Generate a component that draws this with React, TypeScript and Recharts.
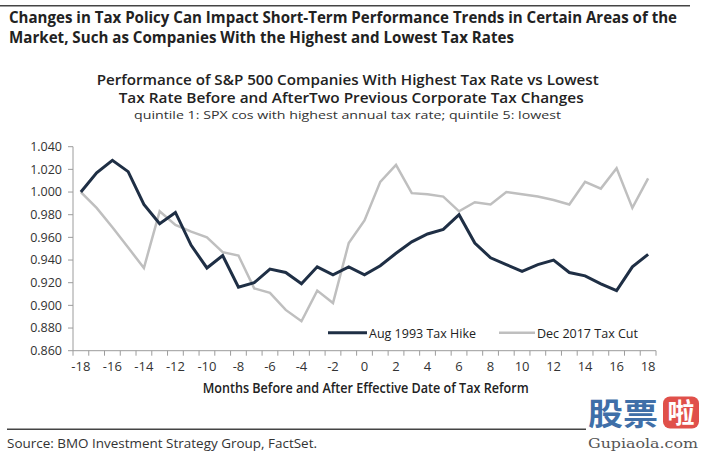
import React from 'react';
import { LineChart, Line, XAxis, YAxis } from 'recharts';

const months = [-18, -17, -16, -15, -14, -13, -12, -11, -10, -9, -8, -7, -6, -5, -4, -3, -2, -1, 0, 1, 2, 3, 4, 5, 6, 7, 8, 9, 10, 11, 12, 13, 14, 15, 16, 17, 18];

const aug1993TaxHike = [1.000, 1.017, 1.028, 1.018, 0.989, 0.972, 0.982, 0.953, 0.933, 0.944, 0.916, 0.920, 0.932, 0.929, 0.919, 0.934, 0.927, 0.934, 0.927, 0.935, 0.946, 0.956, 0.963, 0.967, 0.980, 0.955, 0.942, 0.936, 0.930, 0.936, 0.940, 0.929, 0.926, 0.919, 0.913, 0.934, 0.945];

const dec2017TaxCut = [1.000, 0.986, 0.969, 0.951, 0.933, 0.983, 0.971, 0.965, 0.960, 0.947, 0.944, 0.915, 0.911, 0.896, 0.886, 0.913, 0.902, 0.955, 0.975, 1.009, 1.024, 0.999, 0.998, 0.996, 0.983, 0.991, 0.989, 1.000, 0.998, 0.996, 0.993, 0.989, 1.009, 1.003, 1.021, 0.986, 1.012];

const yTicks = [0.86, 0.88, 0.9, 0.92, 0.94, 0.96, 0.98, 1.0, 1.02, 1.04];
const xLabelTicks = [-18, -16, -14, -12, -10, -8, -6, -4, -2, 0, 2, 4, 6, 8, 10, 12, 14, 16, 18];
const xBoundaryTicks = [-18.5, -17.5, -16.5, -15.5, -14.5, -13.5, -12.5, -11.5, -10.5, -9.5, -8.5, -7.5, -6.5, -5.5, -4.5, -3.5, -2.5, -1.5, -0.5, 0.5, 1.5, 2.5, 3.5, 4.5, 5.5, 6.5, 7.5, 8.5, 9.5, 10.5, 11.5, 12.5, 13.5, 14.5, 15.5, 16.5, 17.5, 18.5];

const seriesNames = ['Aug 1993 Tax Hike', 'Dec 2017 Tax Cut'];
const colors = ['#1f2f45', '#bfbfbf'];

const data = months.map((m, i) => ({
  month: m,
  aug: aug1993TaxHike[i],
  dec: dec2017TaxCut[i],
}));

const allXTicks = [...xBoundaryTicks, ...xLabelTicks].sort((a, b) => a - b);

const FONT = "'Open Sans', 'Noto Sans', sans-serif";

const XTick = (props: any) => {
  const { x, y, payload } = props;
  const v = payload.value;
  if (Math.abs(v - Math.round(v)) > 0.25) {
    return <line x1={x} x2={x} y1={y} y2={y + 5} stroke="#9c9c9c" strokeWidth={1} />;
  }
  return (
    <text x={x} y={y + 20} textAnchor="middle" fontSize={13} fontFamily={FONT} fill="#333">
      {`${v}`}
    </text>
  );
};

export default function App() {
  return (
    <div style={{ position: 'absolute', left: 0, top: 0, width: 704, height: 453, background: '#fff' }}>
      <LineChart
        width={704}
        height={453}
        data={data}
        margin={{ top: 146.7, right: 48, bottom: 72.3, left: 0 }}
      >
        <XAxis
          dataKey="month"
          type="number"
          domain={[-18.5, 18.5]}
          ticks={allXTicks}
          interval={0}
          tickSize={0}
          tickMargin={0}
          tickLine={false}
          tick={<XTick />}
          height={30}
          stroke="#9c9c9c"
          allowDataOverflow
        />
        <YAxis
          type="number"
          domain={[0.86, 1.04]}
          ticks={yTicks}
          interval={0}
          width={73}
          tickSize={5}
          tickMargin={6}
          stroke="#9c9c9c"
          tick={{ fontSize: 12.5, fontFamily: FONT, fill: '#333' }}
          tickFormatter={(v: number) => v.toFixed(3)}
          allowDataOverflow
        />
        <Line
          dataKey="dec"
          name={seriesNames[1]}
          stroke={colors[1]}
          strokeWidth={2.5}
          dot={false}
          isAnimationActive={false}
        />
        <Line
          dataKey="aug"
          name={seriesNames[0]}
          stroke={colors[0]}
          strokeWidth={3}
          dot={false}
          isAnimationActive={false}
        />
      </LineChart>
      <svg
        width={704}
        height={453}
        style={{ position: 'absolute', left: 0, top: 0, pointerEvents: 'none' }}
      >
        <line x1={0} x2={690} y1={5.7} y2={5.7} stroke="#444" strokeWidth={1.5} />
        <text x={9} y={22.5} fontSize={15.5} fontWeight={700} fontFamily={FONT} fill="#222" textLength={668} lengthAdjust="spacingAndGlyphs">
          Changes in Tax Policy Can Impact Short-Term Performance Trends in Certain Areas of the
        </text>
        <text x={9} y={42.5} fontSize={15.5} fontWeight={700} fontFamily={FONT} fill="#222" textLength={505} lengthAdjust="spacingAndGlyphs">
          Market, Such as Companies With the Highest and Lowest Tax Rates
        </text>
        <text x={96.7} y={85} fontSize={14.5} fontWeight={600} fontFamily={FONT} fill="#222" textLength={502} lengthAdjust="spacingAndGlyphs">
          Performance of S&amp;P 500 Companies With Highest Tax Rate vs Lowest
        </text>
        <text x={118.7} y={103} fontSize={14} fontWeight={600} fontFamily={FONT} fill="#222" textLength={465} lengthAdjust="spacingAndGlyphs">
          Tax Rate Before and AfterTwo Previous Corporate Tax Changes
        </text>
        <text x={134} y={119} fontSize={11.5} fontWeight={400} fontFamily={FONT} fill="#333" textLength={427} lengthAdjust="spacingAndGlyphs">
          quintile 1: SPX cos with highest annual tax rate; quintile 5: lowest
        </text>

        <line x1={328} x2={367} y1={332.7} y2={332.7} stroke={colors[0]} strokeWidth={3} />
        <text x={369} y={337.5} fontSize={13} fontFamily={FONT} fill="#222" textLength={107} lengthAdjust="spacingAndGlyphs">
          {seriesNames[0]}
        </text>
        <line x1={499} x2={535} y1={332.7} y2={332.7} stroke={colors[1]} strokeWidth={2.5} />
        <text x={537} y={337.5} fontSize={13} fontFamily={FONT} fill="#222" textLength={101} lengthAdjust="spacingAndGlyphs">
          {seriesNames[1]}
        </text>

        <text x={202.7} y={392.5} fontSize={13.5} fontWeight={600} fontFamily={FONT} fill="#222" textLength={326} lengthAdjust="spacingAndGlyphs">
          Months Before and After Effective Date of Tax Reform
        </text>

        <line x1={7} x2={586} y1={429.3} y2={429.3} stroke="#444" strokeWidth={1.5} />
        <text x={7} y={448} fontSize={13} fontFamily={FONT} fill="#333" textLength={310} lengthAdjust="spacingAndGlyphs">
          Source: BMO Investment Strategy Group, FactSet.
        </text>

        <text x={588} y={425} fontSize={31} fontWeight={700} fontFamily="'Noto Sans CJK SC', sans-serif" fill="#3f6fa8" textLength={70} lengthAdjust="spacingAndGlyphs">
          股票
        </text>
        <rect x={663} y={396.5} width={36} height={32} rx={7} fill="#e0504a" />
        <text x={681} y={423} fontSize={27} fontWeight={700} textAnchor="middle" fontFamily="'Noto Sans CJK SC', sans-serif" fill="#fff">
          啦
        </text>
        <text x={588} y={448} fontSize={13.5} fontFamily="'DejaVu Serif', serif" fill="#555" textLength={110} lengthAdjust="spacingAndGlyphs">
          Gupiaola.com
        </text>
      </svg>
    </div>
  );
}
